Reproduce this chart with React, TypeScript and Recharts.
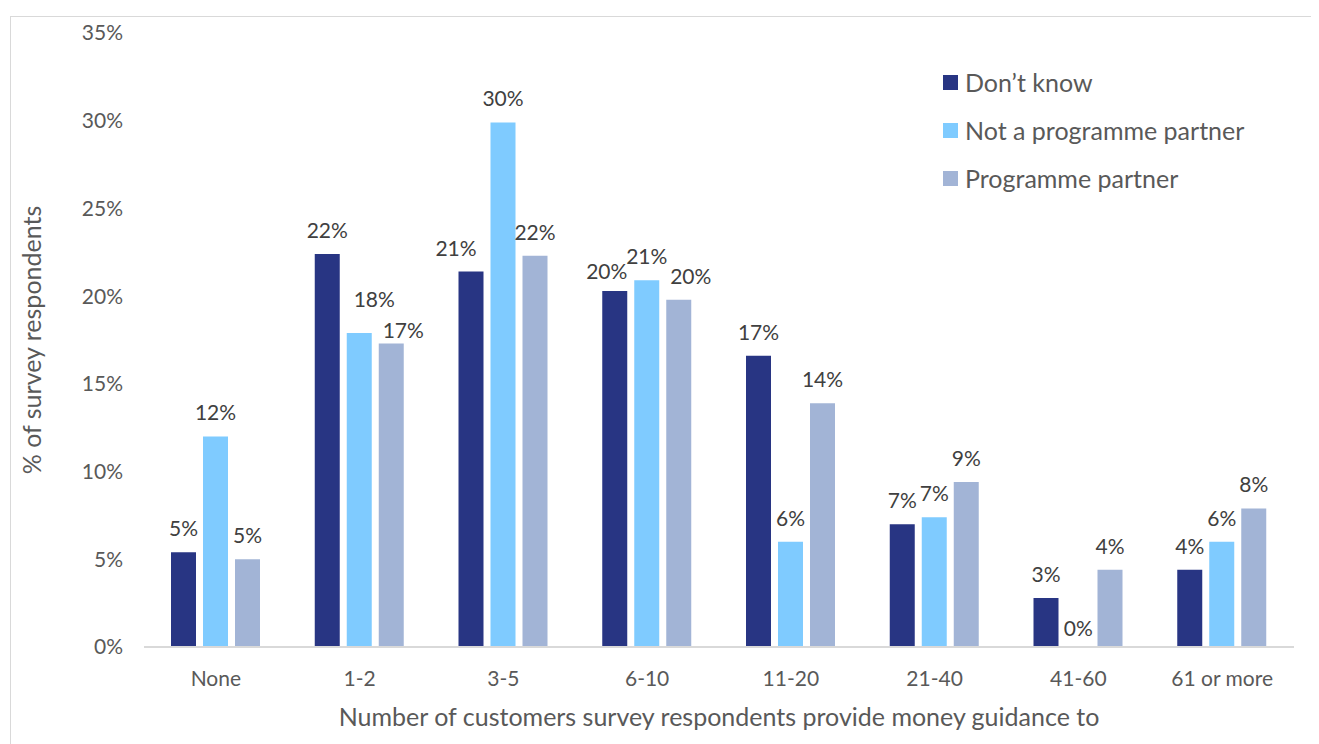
import React from "react";
import { BarChart, Bar, XAxis, YAxis, LabelList, Label, ReferenceDot } from "recharts";

const categories = ["None", "1-2", "3-5", "6-10", "11-20", "21-40", "41-60", "61 or more"];
const dontKnow = [5.4, 22.4, 21.4, 20.3, 16.6, 7.0, 2.8, 4.4];
const notPartner = [12.0, 17.9, 29.9, 20.9, 6.0, 7.4, 0, 6.0];
const partner = [5.0, 17.3, 22.3, 19.8, 13.9, 9.4, 4.4, 7.9];
const yTicks = [0, 5, 10, 15, 20, 25, 30, 35];

const seriesKeys = ["dk", "np", "pp"];
const seriesNames = ["Don\u2019t know", "Not a programme partner", "Programme partner"];
const colors = ["#283583", "#7FCBFF", "#A2B4D6"];

// label nudges (dx, dy) mimicking the original's label placement
const labelNudges: Record<string, [number, number]> = {
  "np|1-2": [15, -10],
  "pp|1-2": [12, 10],
  "dk|3-5": [-15, 0],
  "dk|6-10": [-8, 4],
  "pp|6-10": [12, 0],
};

const data = categories.map((c, i) => ({
  cat: c,
  dk: dontKnow[i],
  np: notPartner[i],
  pp: partner[i],
}));

const FONT = "Lato, 'Open Sans', sans-serif";
const LABEL_FS = 21;
const LABEL_GAP = 16;
const fmt = (v: any) => `${Math.round(Number(v))}%`;

const makeLabel = (key: string) => (props: any) => {
  const vb = props.viewBox && props.viewBox.x != null ? props.viewBox : props;
  const x = Number(vb.x);
  const y = Number(vb.y);
  const w = Number(vb.width);
  const h = Number(vb.height);
  const idx = props.index;
  const cat = categories[idx];
  const nudge = labelNudges[`${key}|${cat}`] || [0, 0];
  const top = h < 0 ? y + h : y;
  return (
    <text
      x={x + w / 2 + nudge[0]}
      y={top - LABEL_GAP + nudge[1]}
      textAnchor="middle"
      fill="#404040"
      fontSize={LABEL_FS}
      fontFamily={FONT}
    >
      {fmt(props.value)}
    </text>
  );
};

const Legend = () => (
  <div style={{ position: "absolute", left: 935, top: 50, fontFamily: FONT, fontSize: 25, color: "#595959" }}>
    {seriesNames.map((n, i) => (
      <div key={n} style={{ display: "flex", alignItems: "center", height: 48 }}>
        <div style={{ width: 15, height: 15, background: colors[i], marginRight: 7 }} />
        <span>{n}</span>
      </div>
    ))}
  </div>
);

const zeroPoints: { cat: string; s: number }[] = [];
data.forEach((d: any) => {
  seriesKeys.forEach((k, s) => {
    if (d[k] === 0) zeroPoints.push({ cat: d.cat, s });
  });
});

export default function App() {
  return (
    <div style={{ position: "relative", width: 1311, height: 736, overflow: "hidden", background: "#fff" }}>
      <style>{"html,body{overflow:hidden;}"}</style>
      <div
        style={{
          position: "absolute",
          left: 2,
          top: 8,
          width: 1340,
          height: 780,
          borderTop: "1.5px solid #d9d9d9",
          borderLeft: "1.5px solid #d9d9d9",
          boxSizing: "border-box",
        }}
      />
      <div style={{ position: "absolute", left: 0, top: 0 }}>
        <BarChart
          width={1311}
          height={736}
          data={data}
          margin={{ top: 25, right: 25, bottom: 0, left: 0 }}
          barSize={25}
          barGap={7}
        >
          <XAxis
            dataKey="cat"
            height={97}
            axisLine={{ stroke: "#d9d9d9", strokeWidth: 2 }}
            tickLine={false}
            tick={{ fill: "#595959", fontSize: 21, fontFamily: FONT }}
            tickMargin={18}
            interval={0}
          >
            <Label
              value="Number of customers survey respondents provide money guidance to"
              position="insideBottom"
              offset={18}
              style={{ fill: "#595959", fontSize: 25, fontFamily: FONT }}
            />
          </XAxis>
          <YAxis
            width={136}
            domain={[0, 35]}
            ticks={yTicks}
            axisLine={false}
            tickLine={false}
            tickFormatter={(v: number) => `${v}%`}
            tick={{ fill: "#595959", fontSize: 21, fontFamily: FONT }}
            tickMargin={15}
          >
            <Label
              value="% of survey respondents"
              angle={-90}
              position="insideLeft"
              offset={24}
              style={{ fill: "#595959", fontSize: 25, fontFamily: FONT, textAnchor: "middle" }}
            />
          </YAxis>
          {seriesKeys.map((k, s) => (
            <Bar key={k} dataKey={k} name={seriesNames[s]} fill={colors[s]} isAnimationActive={false}>
              <LabelList dataKey={k} content={makeLabel(k)} />
            </Bar>
          ))}
          {zeroPoints.map((p) => (
            <ReferenceDot
              key={`${p.cat}-${p.s}`}
              x={p.cat}
              y={0}
              r={0}
              fill="none"
              stroke="none"
              label={{
                value: "0%",
                position: "top",
                offset: LABEL_GAP - 5,
                dx: (p.s - 1) * 32,
                fill: "#404040",
                fontSize: LABEL_FS,
                fontFamily: FONT,
              }}
            />
          ))}
        </BarChart>
      </div>
      <Legend />
    </div>
  );
}
